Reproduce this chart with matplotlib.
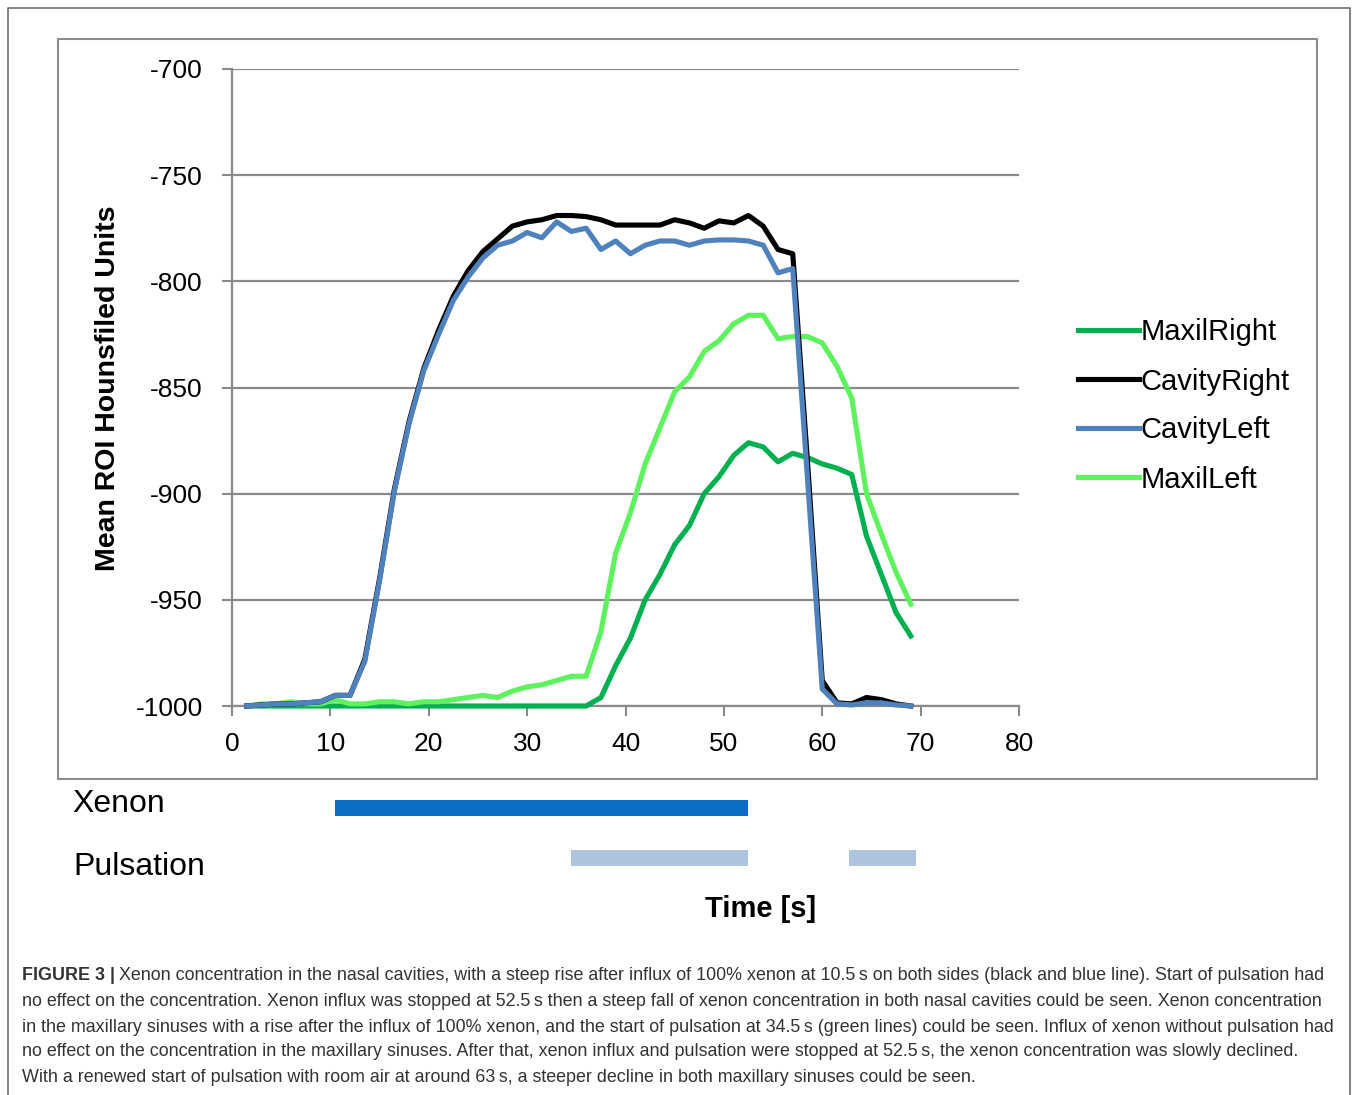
import matplotlib
matplotlib.use('Agg')
import matplotlib.pyplot as plt
from matplotlib.patches import Rectangle
from matplotlib.lines import Line2D

plt.rcParams['font.family'] = ['Liberation Sans', 'DejaVu Sans']
plt.rcParams['axes.unicode_minus'] = False

# sample times (s)
times = [1.5, 3, 4.5, 6, 7.5, 9, 10.5, 12, 13.5, 15, 16.5, 18, 19.5, 21, 22.5,
         24, 25.5, 27, 28.5, 30, 31.5, 33, 34.5, 36, 37.5, 39, 40.5, 42, 43.5,
         45, 46.5, 48, 49.5, 51, 52.5, 54, 55.5, 57, 58.5, 60, 61.5, 63, 64.5,
         66, 67.5, 69]

maxil_right = [-1000] * 24 + [-996, -981, -968, -950, -938, -924, -915, -900,
                              -892, -882, -876, -878, -885, -881, -883, -886,
                              -888, -891, -920, -938, -956, -967]

cavity_right = [-1000, -999.5, -999, -999, -998.5, -998, -995, -995, -978, -940,
                -898, -866, -841, -823, -807, -795, -786, -780, -774, -772,
                -771, -769, -769, -769.5, -771, -773.5, -773.5, -773.5, -773.5,
                -771, -772.5, -775, -771.5, -772.5, -769, -774, -785, -787,
                -885, -988, -998.5, -999, -996, -997, -999, -1000]

cavity_left = [-1000, -999.5, -999, -999, -998.5, -998, -995, -995, -979, -941,
               -899, -867, -842, -825, -809, -798, -789, -783, -781, -777,
               -779.5, -772, -776.5, -775, -785, -781, -787, -783, -781, -781,
               -783, -781, -780.5, -780.5, -781, -783, -796, -794, -893, -992,
               -999, -999.5, -998.5, -998.5, -999.5, -1000]

maxil_left = [-1000, -999, -999, -998, -999, -999, -997, -999, -999, -998,
              -998, -999, -998, -998, -997, -996, -995, -996, -993, -991,
              -990, -988, -986, -986, -965, -928, -909, -886, -869, -852,
              -845, -833, -828, -820, -816, -816, -827, -826, -826, -829,
              -840, -855, -900, -919, -937, -952]

series_names = ['MaxilRight', 'CavityRight', 'CavityLeft', 'MaxilLeft']
series_values = [maxil_right, cavity_right, cavity_left, maxil_left]
series_colors = ['#00b050', '#000000', '#4f81bd', '#5ef25e']
series_z = [3, 4, 5, 3.5]

# event bars (start, end) in s
xenon_on = [(10.5, 52.5)]
pulsation_on = [(34.5, 52.5), (62.7, 69.5)]

caption = [
    "Xenon concentration in the nasal cavities, with a steep rise after influx of 100% xenon at 10.5\u2009s on both sides (black and blue line). Start of pulsation had",
    "no effect on the concentration. Xenon influx was stopped at 52.5\u2009s then a steep fall of xenon concentration in both nasal cavities could be seen. Xenon concentration",
    "in the maxillary sinuses with a rise after the influx of 100% xenon, and the start of pulsation at 34.5\u2009s (green lines) could be seen. Influx of xenon without pulsation had",
    "no effect on the concentration in the maxillary sinuses. After that, xenon influx and pulsation were stopped at 52.5\u2009s, the xenon concentration was slowly declined.",
    "With a renewed start of pulsation with room air at around 63\u2009s, a steeper decline in both maxillary sinuses could be seen.",
]

W, H = 1358, 1095
fig = plt.figure(figsize=(W / 100, H / 100), dpi=100)


def fx(px):
    return px / W


def fy(py):
    return 1 - py / H


# frames
fig.add_artist(Line2D([fx(8), fx(8), fx(1350), fx(1350)], [0, fy(8), fy(8), 0],
                      transform=fig.transFigure, color='#6e6e6e', lw=1.2))
fig.add_artist(Rectangle((fx(58), fy(779)), fx(1317) - fx(58), fy(39) - fy(779),
                         transform=fig.transFigure, fill=False, ec='#8c8c8c', lw=1.5))

ax = fig.add_axes([fx(232), fy(706), fx(1019) - fx(232), fy(69) - fy(706)])
handles = []
for name, vals, col, z in zip(series_names, series_values, series_colors, series_z):
    h, = ax.plot(times, vals, color=col, lw=3.7, label=name, zorder=z,
                 clip_on=False, solid_joinstyle='round')
    handles.append(h)

ax.set_xlim(0, 80)
ax.set_ylim(-1000, -700)
ax.set_xticks(range(0, 81, 10))
ax.set_yticks(range(-1000, -699, 50))
ax.grid(axis='y', color='#8a8a8a', lw=1.6)
ax.set_axisbelow(True)
for s in ['top', 'right']:
    ax.spines[s].set_visible(False)
for s in ['left', 'bottom']:
    ax.spines[s].set_color('#8a8a8a')
    ax.spines[s].set_linewidth(1.6)
ax.tick_params(colors='#8a8a8a', labelcolor='black', labelsize=19,
               length=7, width=1.5, direction='out')
ax.tick_params(axis='y', pad=14)
ax.tick_params(axis='x', pad=12)

ax.legend(handles, series_names, loc='center left',
          bbox_to_anchor=(fx(1078), fy(406)), bbox_transform=fig.transFigure,
          frameon=False, fontsize=21, handlelength=2.1, handletextpad=0.05,
          labelspacing=0.72, borderpad=0, borderaxespad=0)

fig.text(fx(108), fy(388), 'Mean ROI Hounsfiled Units', rotation=90,
         ha='center', va='center', fontsize=20.5, fontweight='bold')

# xenon / pulsation bars
bax = fig.add_axes([fx(232), fy(883), fx(1019) - fx(232), fy(783) - fy(883)])
bax.set_xlim(0, 80)
bax.set_ylim(1.5, -0.5)
for a, b in xenon_on:
    bax.barh(0, b - a, left=a, height=0.32, color='#0a6fc2')
for a, b in pulsation_on:
    bax.barh(1, b - a, left=a, height=0.32, color='#adc3e0')
bax.axis('off')

fig.text(fx(72), fy(804), 'Xenon', ha='left', va='center', fontsize=23)
fig.text(fx(73), fy(867), 'Pulsation', ha='left', va='center', fontsize=23)
fig.text(fx(761), fy(909), 'Time [s]', ha='center', va='center',
         fontsize=21, fontweight='bold')

# caption
cap_y = [976, 1001, 1027, 1052, 1078]
cap_size = 12.9
fig.canvas.draw()
r = fig.canvas.get_renderer()
t0 = fig.text(fx(22), fy(cap_y[0]), 'FIGURE 3 |', fontsize=cap_size,
              fontweight='bold', color='#333333', va='center')
bb = t0.get_window_extent(renderer=r)
fig.text(bb.x1 / W + fx(4), fy(cap_y[0]), caption[0], fontsize=cap_size,
         color='#333333', va='center')
for line, y in zip(caption[1:], cap_y[1:]):
    fig.text(fx(22), fy(y), line, fontsize=cap_size, color='#333333', va='center')

fig.savefig('out.png', dpi=100)
